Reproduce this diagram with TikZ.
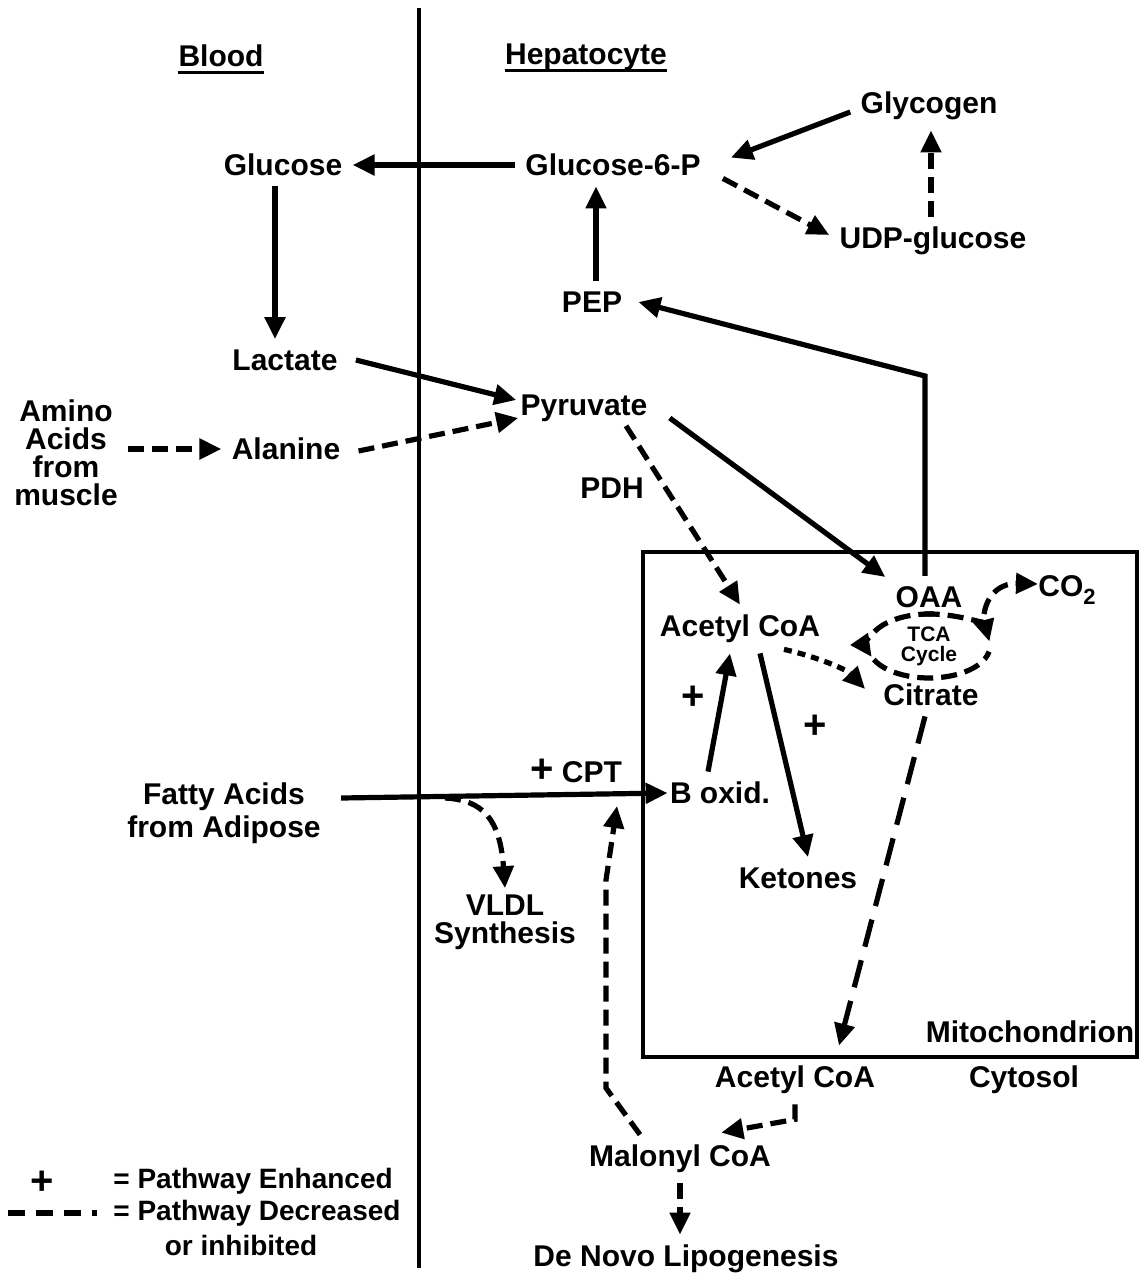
\documentclass[tikz,border=0pt]{standalone}
\usepackage{fontspec}
\setmainfont{Liberation Sans}
\usetikzlibrary{arrows.meta}
\tikzset{
  lbl/.style={font=\bfseries\fontsize{15}{14}\selectfont, inner sep=5pt, align=center},
  leg/.style={font=\bfseries\fontsize{14}{14}\selectfont, inner sep=5pt, align=center},
  plus/.style={font=\bfseries\fontsize{20}{14}\selectfont, inner sep=3pt},
  small/.style={font=\bfseries\fontsize{10.5}{10}\selectfont, inner sep=2pt, align=center},
  arr/.style={line width=2.6pt, -{Triangle[length=11pt,width=10pt]}},
  dsh/.style={arr, dash pattern=on 8pt off 4pt},
  dshlong/.style={arr, dash pattern=on 14pt off 7pt},
  dshfine/.style={arr, dash pattern=on 4pt off 3pt},
  thin/.style={line width=2pt},
  ul/.style={line width=1.6pt},
}
\begin{document}
\begin{tikzpicture}[x=0.5pt,y=-0.5pt]
\useasboundingbox (0,0) rectangle (1139,1280);

% divider and mitochondrion
\coordinate (dtop) at (419,8);
\coordinate (dbot) at (419,1268);
\draw[thin] (dtop) -- (dbot);
\draw[thin] (643,552) rectangle (1137,1057);

% headers
\node[lbl] (blood) at (221,56) {Blood};
\node[lbl] (hep) at (586,57) {Hepatocyte};
\draw[ul] ([xshift=5pt,yshift=-3pt]blood.base west) -- ([xshift=-5pt,yshift=-3pt]blood.base east);
\draw[ul] ([xshift=5pt,yshift=-3pt]hep.base west) -- ([xshift=-5pt,yshift=-3pt]hep.base east);

% nodes
\node[lbl] (glc) at (283,165) {Glucose};
\node[lbl] (g6p) at (613,165) {Glucose-6-P};
\node[lbl] (gly) at (929,106) {Glycogen};
\node[lbl] (udp) at (933,241) {UDP-glucose};
\node[lbl] (pep) at (592,302) {PEP};
\node[lbl] (lac) at (285,360) {Lactate};
\node[lbl] (pyr) at (584,408) {Pyruvate};
\node[lbl] (amino) at (66,453) {Amino\\Acids\\from\\muscle};
\node[lbl] (ala) at (286,449) {Alanine};
\node[lbl] (pdh) at (612,488) {PDH};
\node[lbl] (oaa) at (929,597) {OAA};
\node[small] (tca) at (929,646) {TCA\\Cycle};
\node[lbl] (co2) at (1067,590) {CO\raisebox{-4pt}{\fontsize{11}{11}\selectfont 2}};
\node[lbl] (acm) at (740,629) {Acetyl CoA};
\node[lbl] (cit) at (931,695) {Citrate};
\node[plus] (p1) at (693,698) {+};
\node[plus] (p2) at (815,727) {+};
\node[lbl] (cpt) at (576,771) {{\fontsize{20}{14}\selectfont +} CPT};
\node[lbl] (box) at (720,793) {B oxid.};
\node[lbl] (fa) at (224,813) {Fatty Acids\\[2.5pt]from Adipose};
\node[lbl] (vldl) at (505,922) {VLDL\\Synthesis};
\node[lbl] (ket) at (798,878) {Ketones};
\node[lbl] (mito) at (1030,1032) {Mitochondrion};
\node[lbl] (acc) at (795,1080) {Acetyl CoA};
\node[lbl] (cyt) at (1024,1080) {Cytosol};
\node[lbl] (mal) at (680,1159) {Malonyl CoA};
\node[lbl] (dnl) at (686,1259) {De Novo Lipogenesis};

% legend
\node[plus] (lplus) at (42,1183) {+};
\node[leg, anchor=west] (l1) at (103,1181) {= Pathway Enhanced};
\node[leg, anchor=west] (l2) at (103,1213) {= Pathway Decreased};
\node[leg] (l3) at (241,1245) {or inhibited};
\coordinate (lds) at (8,1213);
\draw[line width=2.6pt, dash pattern=on 8.5pt off 5.5pt] (lds) -- ([xshift=-3pt]l2.west);

% connectors
\draw[arr] (g6p) -- (glc);
\draw[arr] ([yshift=-3pt]gly.west) -- ([xshift=10pt,yshift=-7pt]g6p.north east);
\draw[dsh] ([xshift=-1pt]udp.north) -- ([xshift=-1pt]udp.north |- gly.south);
\draw[dsh] ([xshift=6pt,yshift=4pt]g6p.south east) -- ([yshift=3pt]udp.west);
\draw[arr] ([xshift=2pt]pep.north) -- ([xshift=2pt]pep.north |- g6p.south);
\draw[arr] ([xshift=-2pt]oaa.north) -- ++(0,-200) -- ([xshift=3pt]pep.east);
\draw[arr] ([xshift=-4pt]glc.south) -- ([xshift=-4pt]glc.south |- lac.north);
\draw[arr] ([xshift=4pt]lac.east) -- ([xshift=3pt,yshift=4pt]pyr.west);
\draw[dsh] ([xshift=4pt,yshift=-1pt]ala.east) -- ([xshift=4pt,yshift=-5pt]pyr.west);
\draw[dsh] (amino.east |- ala) -- (ala.west);
\draw[arr] ([xshift=6pt,yshift=-5pt]pyr.east) -- ([yshift=10pt]oaa.west);
\draw[dsh] ([xshift=21pt,yshift=3pt]pyr.south) -- (acm.north);
\draw[arr] ([xshift=-6pt]box.north) -- ([xshift=-5pt]acm.south);
\draw[arr] ([xshift=10pt]acm.south) -- ([xshift=5pt]ket.north);
\draw[dshfine] ([xshift=22pt,yshift=2pt]acm.south) .. controls (810,655) and (845,668) .. ([xshift=-4pt,yshift=3pt]cit.west);
\draw[dshlong] ([xshift=-3pt]cit.south) -- ([xshift=22pt,yshift=5pt]acc.north);

% TCA cycle
\draw[dsh] (tca) ++(85:30.5pt and 16pt) arc[start angle=85, end angle=200, x radius=30.5pt, y radius=16pt];
\draw[dsh] (tca) ++(95:30.5pt and 16pt) arc[start angle=95, end angle=8, x radius=30.5pt, y radius=16pt];
\draw[line width=2.6pt, dash pattern=on 8pt off 4pt] (tca) ++(205:30.5pt and 16pt) arc[start angle=205, end angle=350, x radius=30.5pt, y radius=16pt];
\coordinate (co2s) at (984,614);
\draw[dsh] (co2s) .. controls (988,590) and (1005,583) .. ([xshift=5pt,yshift=3pt]co2.west);

% fatty acids
\coordinate (cptin) at (617,806);
\draw[arr] ([xshift=5pt,yshift=7.5pt]fa.east) -- ([xshift=4pt]box.west);
\draw[dsh] (445,798) .. controls (482,800) and (500,818) .. ([yshift=-2pt]vldl.north);
\draw[dsh] ([xshift=-20pt]mal.north) -- (606,1088) -- (606,880) -- (cptin);
\draw[dsh] (acc.south) -- ++(0,15) -- ([xshift=-30pt,yshift=1pt]mal.north east);
\draw[dsh] (mal.south) -- (mal.south |- dnl.north);
\end{tikzpicture}
\end{document}
